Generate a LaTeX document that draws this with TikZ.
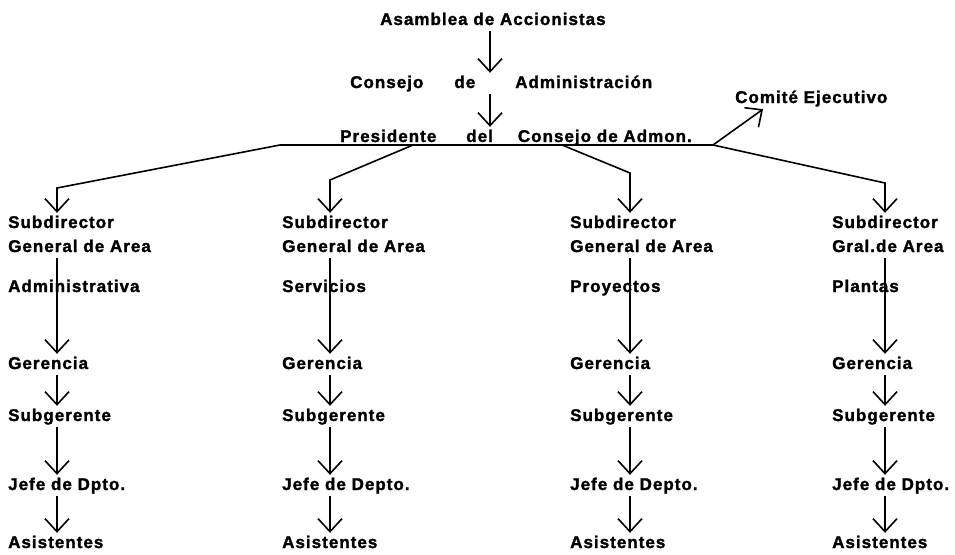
\documentclass[tikz,border=0pt]{standalone}
\usepackage{fontspec}
\setmainfont{Liberation Sans}[LetterSpace=6, BoldFeatures={FakeBold=1.6}]
\usepackage{tikz}
\usetikzlibrary{arrows.meta, positioning, calc}

\tikzset{
  org/.style={font=\fontsize{17}{20}\selectfont\bfseries, anchor=base west, inner xsep=0pt, inner ysep=3pt, text height=12pt, text depth=3pt},
  ln/.style={line width=1.6pt},
  arr/.style={ln, -{Straight Barb[length=13pt, width=24pt]}}
}

\begin{document}
\begin{tikzpicture}[x=1pt, y=-1pt]
  \useasboundingbox (0,0) rectangle (955,554);

  \coordinate (k0) at (490,0);
  \node[org] (asam) at (380,25) {Asamblea de Accionistas};
  \node[org] (cons) at (350,88) {Consejo\hspace{31pt}de\hspace{40pt}Administración};
  \node[org] (pres) at (340,142) {Presidente\hspace{30pt}del\hspace{25pt}Consejo de Admon.};
  \node[org] (com) at (735,103) {Comité Ejecutivo};

  \draw[arr] (asam.south -| k0) -- (cons.north -| k0);
  \draw[arr] (cons.south -| k0) -- (pres.north -| k0);

  \coordinate (bar1) at (280,145);
  \coordinate (bar2) at (413,145);
  \coordinate (bar3) at (562,145);
  \coordinate (bar4) at (713,145);
  \draw[ln] (bar1) -- (bar4);
  \draw[arr] (bar4) -- ([xshift=28pt]com.south west);

  \foreach \i/\tx/\ax/\gen/\area/\jefe in {
      1/8/57/General de Area/Administrativa/Jefe de Dpto.,
      2/282/330/General de Area/Servicios/Jefe de Depto.,
      3/570/630/General de Area/Proyectos/Jefe de Depto.,
      4/832/885/Gral.de Area/Plantas/Jefe de Dpto.}{
    \coordinate (k\i) at (\ax,0);
    \node[org] (sd\i) at (\tx,228) {Subdirector};
    \node[org] (ga\i) at (\tx,252) {\gen};
    \node[org] (ar\i) at (\tx,292) {\area};
    \node[org] (ge\i) at (\tx,369) {Gerencia};
    \node[org] (sg\i) at (\tx,421) {Subgerente};
    \node[org] (jd\i) at (\tx,490) {\jefe};
    \node[org] (as\i) at (\tx,548) {Asistentes};
    \draw[arr] (ga\i.south -| k\i) -- (ge\i.north -| k\i);
    \draw[arr] (ge\i.south -| k\i) -- (sg\i.north -| k\i);
    \draw[arr] (sg\i.south -| k\i) -- (jd\i.north -| k\i);
    \draw[arr] (jd\i.south -| k\i) -- (as\i.north -| k\i);
  }

  \draw[arr] (bar1) -- (57,188) -- (sd1.north -| k1);
  \draw[arr] (bar2) -- (330,180) -- (sd2.north -| k2);
  \draw[arr] (bar3) -- (630,173) -- (sd3.north -| k3);
  \draw[arr] (bar4) -- (885,183) -- (sd4.north -| k4);
\end{tikzpicture}
\end{document}
